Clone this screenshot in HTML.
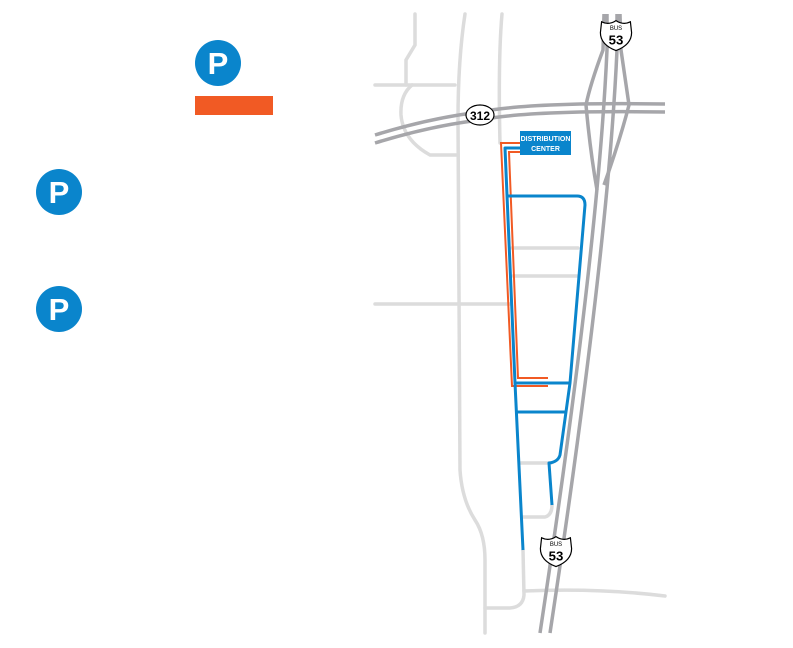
<!DOCTYPE html>
<html><head><meta charset="utf-8"><style>
html,body{margin:0;padding:0;background:#fff;width:793px;height:648px;overflow:hidden}
svg{display:block}
</style></head><body>
<svg width="793" height="648" viewBox="0 0 793 648" xmlns="http://www.w3.org/2000/svg" font-family="Liberation Sans, sans-serif">
<circle cx="218" cy="63" r="23" fill="#0a85cc"/>
<text x="218" y="74" font-size="31" font-weight="bold" fill="#fff" text-anchor="middle">P</text>
<rect x="195" y="96" width="78" height="19" fill="#f15a24"/>
<circle cx="59" cy="192" r="23" fill="#0a85cc"/>
<text x="59" y="203" font-size="31" font-weight="bold" fill="#fff" text-anchor="middle">P</text>
<circle cx="59" cy="309" r="23" fill="#0a85cc"/>
<text x="59" y="320" font-size="31" font-weight="bold" fill="#fff" text-anchor="middle">P</text>

<g fill="none" stroke="#dcdcdc" stroke-width="3.5" stroke-linecap="round">
<path d="M415 14 L415 45 L406 60 L406 85"/>
<path d="M375 85 L455 85"/>
<path d="M412 85 Q400 95 401 115 Q403 140 430 155 L458 155"/>
<path d="M465 14 Q458 60 458 120 L460 470 Q462 500 475 520 Q485 535 485 560 L485 633"/>
<path d="M502 14 Q498 60 500 143"/>
<path d="M375 304 L510 304"/>
<path d="M512 248 L578 248"/>
<path d="M513 276 L577 276"/>
<path d="M520 463 L551 463"/>
<path d="M523 517 L545 517 Q552 515 552 505"/>
<path d="M523 550 L524 595 Q523 607 510 608 L485 608"/>
<path d="M524 591 Q600 588 665 596"/>
</g>

<g fill="none" stroke="#a6a6aa" stroke-width="3.5">
<path d="M375 135 Q430 118 480 112 Q530 102 665 104"/>
<path d="M375 143 Q430 126 480 120 Q530 110 665 112"/>
<path d="M607 14 L607 50 Q598 250 540 633"/>
<path d="M617 14 L617 50 Q608 250 550 633"/>
<path d="M604 14 L603 50 Q590 85 586 105 Q590 150 597 190"/>
<path d="M620 14 L621 50 Q626 85 629 105 Q620 140 604 185"/>
</g>

<g fill="none" stroke="#f15a24" stroke-width="2">
<path d="M520 143 L501 143 L512 386 L548 386"/>
<path d="M520 152 L509 152 L518 378 L548 378"/>
</g>
<g fill="none" stroke="#0a85cc" stroke-width="3" stroke-linejoin="round">
<path d="M520 148 L505 148 L515 383 L523 550"/>
<path d="M508 196 L577 196 Q585 196 585 205 L570 383 L560 455 Q558 462 549 463 L552 505"/>
<path d="M515 383 L570 383"/>
<path d="M517 412 L566 412"/>
</g>
<rect x="520" y="131" width="51" height="24" fill="#0a85cc"/>
<text x="545.5" y="141" font-size="7" font-weight="bold" fill="#fff" text-anchor="middle">DISTRIBUTION</text>
<text x="545.5" y="151" font-size="7" font-weight="bold" fill="#fff" text-anchor="middle">CENTER</text>

<ellipse cx="480" cy="115" rx="14" ry="10" fill="#fff" stroke="#000" stroke-width="1.2"/>
<text x="480" y="120" font-size="12" font-weight="bold" text-anchor="middle">312</text>
<g transform="translate(616,35) scale(1.2)">
<path d="M-12 -11 Q-6 -8 0 -12 Q6 -8 12 -11 L13 -2 Q13 8 0 13 Q-13 8 -13 -2 Z" fill="#fff" stroke="#000" stroke-width="1"/>
<text x="0" y="-4" font-size="5" text-anchor="middle">BUS</text>
<text x="0" y="8" font-size="11" font-weight="bold" text-anchor="middle">53</text>
</g>
<g transform="translate(556,551) scale(1.2)">
<path d="M-12 -11 Q-6 -8 0 -12 Q6 -8 12 -11 L13 -2 Q13 8 0 13 Q-13 8 -13 -2 Z" fill="#fff" stroke="#000" stroke-width="1"/>
<text x="0" y="-4" font-size="5" text-anchor="middle">BUS</text>
<text x="0" y="8" font-size="11" font-weight="bold" text-anchor="middle">53</text>
</g>
</svg>
</body></html>
